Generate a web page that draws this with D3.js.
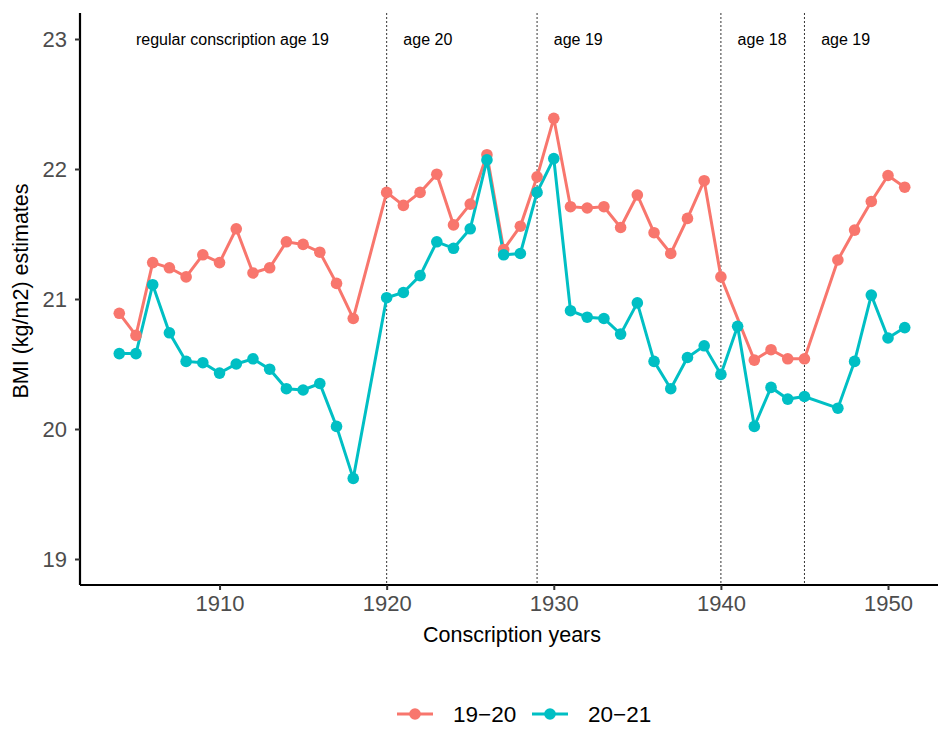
<!DOCTYPE html>
<html><head><meta charset="utf-8">
<script src="https://cdn.jsdelivr.net/npm/d3@7"></script>
<style>body{margin:0;background:#fff;} text{font-family:"Liberation Sans", Arial, sans-serif;}</style>
</head><body>
<svg id="chart" width="938" height="729"></svg>
<script>
const years1920 = [1904,1905,1906,1907,1908,1909,1910,1911,1912,1913,1914,1915,1916,1917,1918,
  1920,1921,1922,1923,1924,1925,1926,1927,1928,1929,1930,1931,1932,1933,1934,1935,1936,1937,1938,1939,1940,
  1942,1943,1944,1945,1947,1948,1949,1950,1951];
const bmi1920 = [20.89,20.72,21.28,21.24,21.17,21.34,21.28,21.54,21.20,21.24,21.44,21.42,21.36,21.12,20.85,
  21.82,21.72,21.82,21.96,21.57,21.73,22.11,21.38,21.56,21.94,22.39,21.71,21.70,21.71,21.55,21.80,21.51,21.35,21.62,21.91,21.17,
  20.53,20.61,20.54,20.54,21.30,21.53,21.75,21.95,21.86];
const years2021 = [1904,1905,1906,1907,1908,1909,1910,1911,1912,1913,1914,1915,1916,1917,1918,
  1920,1921,1922,1923,1924,1925,1926,1927,1928,1929,1930,1931,1932,1933,1934,1935,1936,1937,1938,1939,1940,
  1941,1942,1943,1944,1945,1947,1948,1949,1950,1951];
const bmi2021 = [20.58,20.58,21.11,20.74,20.52,20.51,20.43,20.50,20.54,20.46,20.31,20.30,20.35,20.02,19.62,
  21.01,21.05,21.18,21.44,21.39,21.54,22.07,21.34,21.35,21.82,22.08,20.91,20.86,20.85,20.73,20.97,20.52,20.31,20.55,20.64,20.42,
  20.79,20.02,20.32,20.23,20.25,20.16,20.52,21.03,20.70,20.78];
const seriesNames = ["19\u221220","20\u221221"];
const seriesColors = ["#F8766D","#00BFC4"];
const xTicks = [1910,1920,1930,1940,1950];
const yTicks = [19,20,21,22,23];
const breakYears = [1920,1929,1940,1945];
const periodLabels = ["regular conscription age 19","age 20","age 19","age 18","age 19"];
const periodStarts = [1905,1921,1930,1941,1946];

const svg = d3.select("#chart");
const x = d3.scaleLinear().domain([1901.65,1953.35]).range([80,944]);
const y = d3.scaleLinear().domain([18.8,23.2]).range([585,13]);

// break lines
svg.selectAll("line.brk").data(breakYears).enter().append("line")
  .attr("x1",d=>x(d)).attr("x2",d=>x(d)).attr("y1",13).attr("y2",585)
  .attr("stroke","#000").attr("stroke-width",0.8).attr("stroke-dasharray","2,2");

// period labels
svg.selectAll("text.per").data(periodLabels).enter().append("text")
  .attr("x",(d,i)=>x(periodStarts[i])).attr("y",y(23)).attr("dy","0.35em")
  .attr("font-size",16).attr("fill","#000").text(d=>d);

const series = [
  {name:seriesNames[0], color:seriesColors[0], pts: years1920.map((yr,i)=>({yr, v:bmi1920[i]}))},
  {name:seriesNames[1], color:seriesColors[1], pts: years2021.map((yr,i)=>({yr, v:bmi2021[i]}))}
];
const line = d3.line().x(d=>x(d.yr)).y(d=>y(d.v));
series.forEach(s=>{
  svg.append("path").datum(s.pts).attr("d",line).attr("fill","none")
    .attr("stroke",s.color).attr("stroke-width",3);
});
series.forEach(s=>{
  svg.append("g").selectAll("circle").data(s.pts).enter().append("circle")
    .attr("cx",d=>x(d.yr)).attr("cy",d=>y(d.v)).attr("r",5.8).attr("fill",s.color);
});

// axes
const xAxis = svg.append("g").attr("transform","translate(0,585)")
  .call(d3.axisBottom(x).tickValues(xTicks).tickFormat(d3.format("d")).tickSize(5).tickSizeOuter(0));
const yAxis = svg.append("g").attr("transform","translate(80,0)")
  .call(d3.axisLeft(y).tickValues(yTicks).tickFormat(d3.format("d")).tickSize(5).tickSizeOuter(0));
[xAxis,yAxis].forEach(a=>{
  a.select(".domain").attr("stroke","#000").attr("stroke-width",2.2);
  a.selectAll(".tick line").attr("stroke","#333").attr("stroke-width",2);
  a.selectAll(".tick text").attr("fill","#4D4D4D").attr("font-size",22).attr("font-family","Liberation Sans, Arial, sans-serif");
});
xAxis.select(".domain").attr("d","M80,0H944");
yAxis.select(".domain").attr("d","M0,13V585");
xAxis.selectAll(".tick text").attr("dy","0.71em").attr("y",10);
yAxis.selectAll(".tick text").attr("x",-13);

svg.append("text").attr("x",512).attr("y",642).attr("text-anchor","middle")
  .attr("font-size",21.5).attr("fill","#000").text("Conscription years");
svg.append("text").attr("transform","translate(28,291) rotate(-90)").attr("text-anchor","middle")
  .attr("font-size",21.5).attr("fill","#000").text("BMI (kg/m2) estimates");

// legend
const legX = [397,532];
series.forEach((s,i)=>{
  const g = svg.append("g").attr("transform",`translate(${legX[i]},714)`);
  g.append("line").attr("x1",0).attr("x2",36).attr("y1",0).attr("y2",0).attr("stroke",s.color).attr("stroke-width",3);
  g.append("circle").attr("cx",18).attr("cy",0).attr("r",5.8).attr("fill",s.color);
  g.append("text").attr("x",56).attr("y",0).attr("dy","0.35em").attr("font-size",22.5).attr("fill","#000").text(s.name);
});
</script>
</body></html>
